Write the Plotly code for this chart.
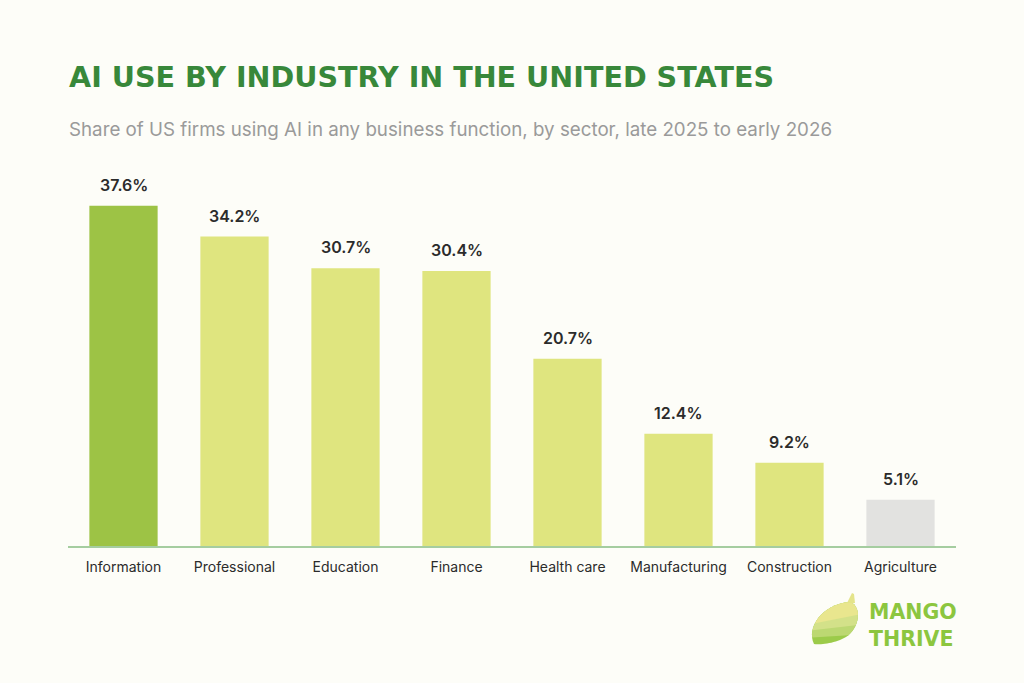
import plotly.graph_objects as go

categories = ["Information", "Professional", "Education", "Finance", "Health care",
              "Manufacturing", "Construction", "Agriculture"]
values = [37.6, 34.2, 30.7, 30.4, 20.7, 12.4, 9.2, 5.1]
bar_colors = ["#9DC345", "#DFE57F", "#DFE57F", "#DFE57F", "#DFE57F",
              "#DFE57F", "#DFE57F", "#E2E2E0"]
labels = [f"{v:.1f}%" for v in values]

W, H = 1024, 683
L, R, T, B = 68, 68, 166, 137
PW, PH = W - L - R, H - T - B

def px(x):
    return (x - L) / PW

def py(y):
    return (H - B - y) / PH

fig = go.Figure()
fig.add_trace(go.Bar(
    x=categories, y=values, marker=dict(color=bar_colors, line=dict(width=0)),
    width=0.615, hoverinfo="skip",
))

for c, v, t in zip(categories, values, labels):
    fig.add_annotation(x=c, y=v, text=t, showarrow=False, yanchor="bottom",
                       yshift=9, font=dict(family="Inter", size=16, weight=600, color="#2B2B2B"))

# Title and subtitle
fig.add_annotation(xref="paper", yref="paper", x=px(67), y=py(77), xanchor="left", yanchor="middle",
                   text="<b>AI USE BY INDUSTRY IN THE UNITED STATES</b>", showarrow=False,
                   font=dict(family="DejaVu Sans", size=28.6, color="#38883A"))
fig.add_annotation(xref="paper", yref="paper", x=px(67), y=py(130), xanchor="left", yanchor="middle",
                   text="Share of US firms using AI in any business function, by sector, late 2025 to early 2026",
                   showarrow=False, font=dict(family="Inter", size=18.75, color="#9A9A9A"))

# Logo text
fig.add_annotation(xref="paper", yref="paper", x=px(867), y=py(625), xanchor="left", yanchor="middle",
                   text="<b>MANGO<br>THRIVE</b>", showarrow=False, align="left",
                   font=dict(family="DejaVu Sans", size=20.5, color="#8CC63F"))

# ---- logo mango (decoration) ----
def bez(p0, p1, p2, p3, n=16):
    pts = []
    for i in range(n + 1):
        t = i / n
        u = 1 - t
        x = u**3*p0[0] + 3*u*u*t*p1[0] + 3*u*t*t*p2[0] + t**3*p3[0]
        y = u**3*p0[1] + 3*u*u*t*p1[1] + 3*u*t*t*p2[1] + t**3*p3[1]
        pts.append((x, y))
    return pts

outline = (bez((814, 644), (806, 628), (822, 604), (850, 602))
           + bez((850, 602), (862, 606), (860, 628), (846, 637))[1:]
           + bez((846, 637), (836, 643), (822, 645), (814, 644))[1:-1])

def clip_above(poly, a, b):
    def side(p):
        return (b[0]-a[0])*(p[1]-a[1]) - (b[1]-a[1])*(p[0]-a[0])
    out = []
    n = len(poly)
    for i in range(n):
        cur, nxt = poly[i], poly[(i+1) % n]
        sc, sn = side(cur), side(nxt)
        if sc <= 0:
            out.append(cur)
        if (sc < 0 < sn) or (sn < 0 < sc):
            t = sc / (sc - sn)
            out.append((cur[0] + t*(nxt[0]-cur[0]), cur[1] + t*(nxt[1]-cur[1])))
    return out

def to_path(poly):
    s = "M " + " L ".join(f"{px(x):.5f},{py(y):.5f}" for x, y in poly) + " Z"
    return s

shapes = []
layers = [
    ("#9CCB4A", None),
    ("#BCD872", ((806, 638), (866, 634))),
    ("#D3E189", ((806, 631), (866, 624))),
    ("#E9E68E", ((806, 625), (866, 613))),
]
for col, line in layers:
    poly = outline if line is None else clip_above(outline, line[0], line[1])
    shapes.append(dict(type="path", xref="paper", yref="paper", path=to_path(poly),
                       fillcolor=col, line=dict(width=0), layer="above"))
shapes.append(dict(type="path", xref="paper", yref="paper",
                   path=to_path([(847, 603), (852, 593), (854, 594), (855, 603)]),
                   fillcolor="#E4E48A", line=dict(width=0), layer="above"))

fig.update_layout(
    width=W, height=H, margin=dict(l=L, r=R, t=T, b=B),
    paper_bgcolor="#FDFDF8", plot_bgcolor="#FDFDF8",
    showlegend=False, shapes=shapes,
    xaxis=dict(showgrid=False, showline=True, linecolor="#A5CDA0", linewidth=1.5,
               ticks="", tickfont=dict(family="Inter", size=14, color="#2B2B2B"),
               ticklabelstandoff=7, fixedrange=True),
    yaxis=dict(range=[0, 42], showgrid=False, showticklabels=False, zeroline=False,
               showline=False, fixedrange=True),
)

fig.write_html("out.html", config={"displayModeBar": False},
               post_script="document.body.style.margin='0';document.body.style.padding='0';"
                           "document.body.style.background='#FDFDF8';")
